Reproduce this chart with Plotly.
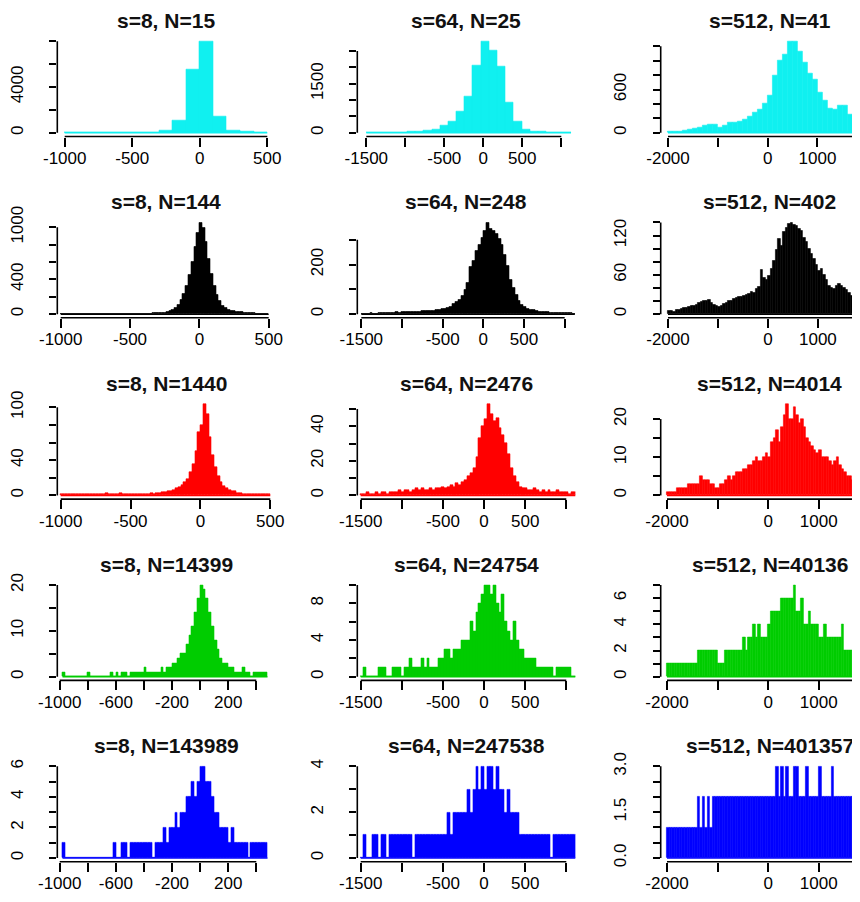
import numpy as np
import plotly.graph_objects as go

# ---------------- data ----------------
titles = [["s=8, N=15", "s=64, N=25", "s=512, N=41"],
          ["s=8, N=144", "s=64, N=248", "s=512, N=402"],
          ["s=8, N=1440", "s=64, N=2476", "s=512, N=4014"],
          ["s=8, N=14399", "s=64, N=24754", "s=512, N=40136"],
          ["s=8, N=143989", "s=64, N=247538", "s=512, N=401357"]]

row_colors = ["#10F0F0", "#000000", "#FF0000", "#00CC00", "#0000FF"]

bin_start = [[-1000, -1500, -2000],
             [-1000, -1500, -2000],
             [-1000, -1500, -2000],
             [-980, -1500, -2000],
             [-980, -1500, -2000]]
bin_width = [[100, 105, 100],
             [20, 35, 50],
             [20, 35, 50],
             [20, 35, 50],
             [20, 35, 50]]

# row 1 (cyan)
counts_r1_s8 = [20, 25, 25, 30, 35, 45, 60, 235, 1055, 5510, 8000, 1400, 235, 90, 35]
counts_r1_s64 = [8, 10, 12, 15, 20, 28, 40, 60, 110, 215, 337, 640, 1100, 2070, 2800,
                 2530, 2020, 930, 337, 112, 50, 30, 20, 12, 10]
counts_r1_s512 = [15, 20, 25, 35, 45, 55, 70, 95, 120, 110, 75, 100, 140, 150, 160,
                  185, 230, 280, 320, 400, 520, 800, 1000, 1080, 1270, 1270, 1130, 980,
                  820, 740, 560, 450, 340, 330, 380, 380, 260, 200, 140, 90, 60]
# row 2 (black)
counts_r2_s8 = [4, 3, 5, 4, 3, 4, 5, 3, 4, 4, 5, 4, 3, 5, 4, 6, 5, 4, 5, 6, 5, 4, 6, 5, 7, 6,
                5, 6, 7, 6, 8, 7, 9,
                16, 11, 13, 16, 20, 26, 36,
                50, 75, 110, 165, 235, 330, 450, 600, 770, 940, 1055, 990, 830, 640, 470,
                330, 225, 150, 100, 70,
                55, 44, 36, 30, 26, 22, 18, 15, 12, 10, 8, 7, 6, 5, 5]
counts_r2_s64 = [3, 3, 3, 4, 3, 3, 4, 4, 4, 5, 5, 6, 8, 7, 8, 9, 9, 10, 10, 11,
                 11, 12, 12, 13, 14, 15, 16, 18, 20, 22, 25, 30, 40, 48, 58, 75, 100, 125, 190, 215,
                 255, 280, 310, 335, 370, 345, 335, 325, 305, 280, 240, 195, 140, 105, 78, 55, 38, 28, 22, 18,
                 16, 13, 11, 10, 8, 8, 6, 7, 5, 6, 4, 5, 4, 5, 3]
counts_r2_s512 = [5, 5, 4, 6, 7, 8, 9, 10, 11, 12,
                  13, 15, 17, 19, 21, 20, 22, 18, 15, 13,
                  11, 13, 16, 18, 20, 21, 23, 25, 27, 26,
                  28, 30, 31, 34, 33, 38, 42, 67, 55, 52,
                  58, 70, 82, 98, 115, 104, 125, 132, 138, 140,
                  137, 135, 130, 127, 117, 110, 100, 92, 85, 76,
                  66, 70, 60, 52, 44, 40, 38, 43, 47, 44,
                  40, 37, 33, 28, 25, 22, 18, 15, 12, 10,
                  8, 7]
# row 3 (red)
counts_r3_s8 = [1, 1, 2, 1, 1, 1, 2, 1, 1, 1, 1, 2, 1, 1, 1, 1, 3, 1, 1, 2,
                1, 3, 2, 1, 1, 2, 2, 1, 2, 2,
                2, 2, 3, 2, 3, 3, 4, 4, 5, 5, 6, 8, 9, 12, 15, 19, 26, 36, 50, 72,
                80, 104, 92, 66, 46, 32, 22, 15, 11, 8, 6, 5, 5, 3, 3, 2, 2, 2, 1, 1,
                2, 1, 1, 1, 1]
counts_r3_s64 = [1, 1, 2, 1, 1, 2, 1, 2, 2, 1, 2, 2, 2, 3, 2, 3, 3, 2, 3, 4,
                 3, 4, 3, 3, 4, 3, 4, 4, 5, 4, 5, 6, 5, 7, 6, 8, 9, 11, 13, 16,
                 22, 33, 40, 44, 53, 47, 43, 45, 39, 35, 30, 24, 16, 11, 8, 5, 4, 4, 3, 3,
                 4, 3, 2, 3, 2, 3, 2, 2, 3, 2, 2, 2, 1, 2, 2]
counts_r3_s512 = [1, 1, 1, 1, 2, 2, 2, 2, 3, 3,
                  3, 3, 3, 5, 4, 4, 4, 3, 3, 2,
                  2, 3, 3, 4, 5, 4, 5, 6, 6, 6,
                  7, 7, 8, 8, 9, 10, 9, 9, 10, 11,
                  10, 14, 15, 17, 14, 18, 21, 24, 20, 20,
                  23, 21, 19, 20, 18, 15, 14, 13, 12, 11,
                  12, 10, 10, 10, 9, 8, 9, 10, 8, 7,
                  6, 5, 5, 4, 5, 4, 3, 3, 3, 2,
                  2, 2]
# row 4 (green)
counts_r4_s8 = [1, 0, 0, 0, 0, 0, 0, 0, 0, 1, 0, 0, 0, 0, 0, 0, 0, 1, 0, 1, 0, 1, 1, 0,
                1, 1, 1, 1, 1,
                2, 1, 1, 1, 1, 1, 2, 1, 2, 2,
                3, 3, 4, 5, 5, 7, 9, 11, 14, 17,
                20, 19, 17, 14, 11, 8, 6, 4, 3, 3,
                2, 2, 1, 1, 1, 2, 1, 1, 0, 1,
                1, 1, 1, 1]
counts_r4_s64 = [0, 1, 0, 0, 0, 0, 1, 1, 1, 0, 0, 1, 1, 1, 0, 1, 1, 2, 1, 1,
                 1, 2, 1, 2, 1, 1, 1, 2, 2, 3, 3, 2, 3, 3, 3, 4, 4, 4, 6, 5,
                 7, 8, 9, 10, 10, 9, 10, 8, 7, 9, 6, 5, 4, 6, 4, 3, 3, 2, 2, 2,
                 2, 1, 1, 1, 1, 1, 1, 0, 1, 1, 1, 1, 1, 0, 0]
counts_r4_s512 = [1, 1, 1, 1, 1, 1, 1, 1, 1, 1,
                  1, 1, 2, 2, 2, 2, 2, 2, 2, 2,
                  1, 1, 1, 2, 2, 2, 2, 2, 2, 2,
                  3, 2, 3, 3, 4, 3, 4, 3, 3, 3,
                  4, 5, 5, 5, 5, 6, 6, 6, 6, 6,
                  7, 5, 5, 6, 4, 4, 5, 4, 4, 4,
                  3, 3, 4, 3, 3, 3, 3, 3, 3, 4,
                  2, 2, 2, 2, 2, 2, 1, 2, 1, 2,
                  1, 1]
# row 5 (blue)
counts_r5_s8 = [1, 0, 0, 0, 0, 0, 0, 0, 0, 0, 0, 0, 0, 0, 0, 0, 0, 0, 1, 0, 0, 1, 1, 0,
                1, 1, 1, 1, 1, 1, 1, 1, 0, 1, 1, 1,
                2, 1, 2, 2, 3, 2, 3, 3, 4, 4, 5, 4, 5, 6, 6, 5, 5, 4, 3, 3, 2, 2, 2, 1, 2, 1,
                1, 1, 1, 1, 0, 1, 1, 1, 1, 1, 1]
counts_r5_s64 = [0, 1, 0, 0, 1, 1, 0, 1, 1, 0, 1, 1, 1, 1, 1, 1, 1, 1, 0, 1,
                 1, 1, 1, 1, 1, 1, 1, 1, 1, 1, 2, 1, 2, 2, 2, 2, 2, 3, 2, 3,
                 4, 3, 4, 3, 4, 4, 3, 4, 3, 3, 2, 3, 2, 2, 2, 1, 1, 1, 1, 1,
                 1, 1, 1, 1, 1, 1, 0, 1, 1, 1, 1, 1, 1, 1, 1]
counts_r5_s512 = [1, 1, 1, 1, 1, 1, 1, 1, 1, 1,
                  1, 1, 2, 1, 2, 1, 2, 1, 2, 2,
                  2, 2, 2, 2, 2, 2, 2, 2, 2, 2,
                  2, 2, 2, 2, 2, 2, 2, 2, 2, 2,
                  2, 2, 2, 3, 2, 3, 2, 3, 2, 2,
                  3, 3, 2, 2, 2, 3, 2, 2, 2, 2,
                  3, 2, 2, 2, 2, 3, 2, 2, 2, 2,
                  2, 2, 2, 2, 1, 1, 1, 1, 1, 1,
                  1, 1]

counts = [[counts_r1_s8, counts_r1_s64, counts_r1_s512],
          [counts_r2_s8, counts_r2_s64, counts_r2_s512],
          [counts_r3_s8, counts_r3_s64, counts_r3_s512],
          [counts_r4_s8, counts_r4_s64, counts_r4_s512],
          [counts_r5_s8, counts_r5_s64, counts_r5_s512]]

# x tick values / labels
xt_col1_coarse = [-1000, -500, 0, 500]
xl_col1_coarse = ["-1000", "-500", "0", "500"]
xt_col1_fine = [-1000, -800, -600, -400, -200, 0, 200, 400]
xl_col1_fine = ["-1000", "", "-600", "", "-200", "", "200", ""]
xt_col2 = [-1500, -1000, -500, 0, 500, 1000]
xl_col2 = ["-1500", "", "-500", "0", "500", ""]
xt_col3 = [-2000, -1000, 0, 1000, 2000]
xl_col3 = ["-2000", "", "0", "1000", ""]

# y tick values / labels
y_ticks = [
    [([0, 2000, 4000, 6000, 8000], ["0", "", "4000", "", ""]),
     ([0, 500, 1000, 1500, 2000, 2500], ["0", "", "", "1500", "", ""]),
     ([0, 200, 400, 600, 800, 1000, 1200], ["0", "", "", "600", "", "", ""])],
    [([0, 200, 400, 600, 800, 1000], ["0", "", "400", "", "", "1000"]),
     ([0, 100, 200, 300], ["0", "", "200", ""]),
     ([0, 20, 40, 60, 80, 100, 120, 140], ["0", "", "", "60", "", "", "120", ""])],
    [([0, 20, 40, 60, 80, 100], ["0", "", "40", "", "", "100"]),
     ([0, 10, 20, 30, 40, 50], ["0", "", "20", "", "40", ""]),
     ([0, 5, 10, 15, 20], ["0", "", "10", "", "20"])],
    [([0, 5, 10, 15, 20], ["0", "", "10", "", "20"]),
     ([0, 2, 4, 6, 8, 10], ["0", "", "4", "", "8", ""]),
     ([0, 1, 2, 3, 4, 5, 6, 7], ["0", "", "2", "", "4", "", "6", ""])],
    [([0, 1, 2, 3, 4, 5, 6], ["0", "", "2", "", "4", "", "6"]),
     ([0, 1, 2, 3, 4], ["0", "", "2", "", "4"]),
     ([0, 0.5, 1.0, 1.5, 2.0, 2.5, 3.0], ["0.0", "", "", "1.5", "", "", "3.0"])],
]

# ---------------- layout geometry ----------------
W, H = 860, 902
col_px = [(49.3, 267.3), (349.3, 567.3), (652.7, 860.0)]
col_title_px = [158.3, 458.3, 761.7]
row_top0, row_step, plot_h = 29.5, 181.3, 99.0

x_ranges = [[(-1054.8, 559.2), (-1615.4, 1179.5), (-2146.5, 2014.1)],
            [(-1024.5, 547.6), (-1549.2, 1130.3), (-2146.0, 2003.0)],
            [(-1024.3, 535.8), (-1541.3, 1109.4), (-2124.6, 1974.7)],
            [(-1017.1, 535.3), (-1541.3, 1109.4), (-2124.6, 1974.7)],
            [(-1017.1, 535.3), (-1541.3, 1109.4), (-2124.6, 1974.7)]]

FONT = "Liberation Sans, Arial, sans-serif"

fig = go.Figure()
shapes, annotations, axes = [], [], {}

for r in range(5):
    for c in range(3):
        n = r * 3 + c + 1
        sfx = "" if n == 1 else str(n)
        xa, ya = "x" + sfx, "y" + sfx
        col = row_colors[r]
        cnt = np.asarray(counts[r][c], dtype=float)
        w = bin_width[r][c]
        edges = bin_start[r][c] + w * np.arange(len(cnt) + 1)
        centers = (edges[:-1] + edges[1:]) / 2.0

        fig.add_trace(go.Bar(x=centers, y=cnt, width=w, xaxis=xa, yaxis=ya,
                             marker=dict(color=col, line=dict(color=col, width=0.6)),
                             hoverinfo="skip", showlegend=False))
        fig.add_trace(go.Scatter(x=[edges[0], edges[-1]], y=[0, 0], mode="lines",
                                 line=dict(color=col, width=1.5), xaxis=xa, yaxis=ya,
                                 hoverinfo="skip", showlegend=False))

        if c == 0:
            xt, xl = (xt_col1_coarse, xl_col1_coarse) if r < 3 else (xt_col1_fine, xl_col1_fine)
        elif c == 1:
            xt, xl = xt_col2, xl_col2
        else:
            xt, xl = xt_col3, xl_col3
        yt, yl = y_ticks[r][c]
        M = cnt.max()

        top = row_top0 + row_step * r
        L, R = col_px[c]
        axes["xaxis" + sfx] = dict(
            domain=[L / W, R / W], range=list(x_ranges[r][c]), anchor=ya,
            tickmode="array", tickvals=xt, ticktext=xl, ticks="outside", ticklen=9,
            tickwidth=1.6, tickcolor="black", showline=False, showgrid=False,
            zeroline=False, tickfont=dict(family=FONT, size=17, color="black"),
            ticklabelstandoff=-3, automargin=False, fixedrange=True)
        axes["yaxis" + sfx] = dict(
            domain=[1 - (top + plot_h) / H, 1 - top / H], range=[-0.04 * M, 1.04 * M],
            anchor=xa, tickmode="array", tickvals=yt, ticktext=yl, ticks="outside",
            ticklen=7, tickwidth=1.6, tickcolor="black", tickangle=-90, showline=False,
            showgrid=False, zeroline=False,
            tickfont=dict(family=FONT, size=17, color="black"),
            ticklabelstandoff=20, automargin=False, fixedrange=True)

        # R-style axis lines spanning first..last tick
        shapes.append(dict(type="line", xref=xa, yref=ya + " domain", x0=xt[0], x1=xt[-1],
                           y0=0, y1=0, line=dict(color="black", width=1.6)))
        shapes.append(dict(type="line", xref=xa + " domain", yref=ya, x0=0, x1=0,
                           y0=yt[0], y1=yt[-1], line=dict(color="black", width=1.6)))

        annotations.append(dict(text=titles[r][c], xref="paper", yref="paper",
                                x=col_title_px[c] / W, y=1 - (top - row_top0) / H,
                                xanchor="center", yanchor="top", showarrow=False,
                                borderpad=0,
                                font=dict(family=FONT, size=21, color="#111111",
                                          weight="bold")))

fig.update_layout(width=W, height=H, margin=dict(l=0, r=0, t=0, b=0),
                  paper_bgcolor="white", plot_bgcolor="white", bargap=0,
                  shapes=shapes, annotations=annotations, showlegend=False, **axes)

fig.write_html("out.html")
